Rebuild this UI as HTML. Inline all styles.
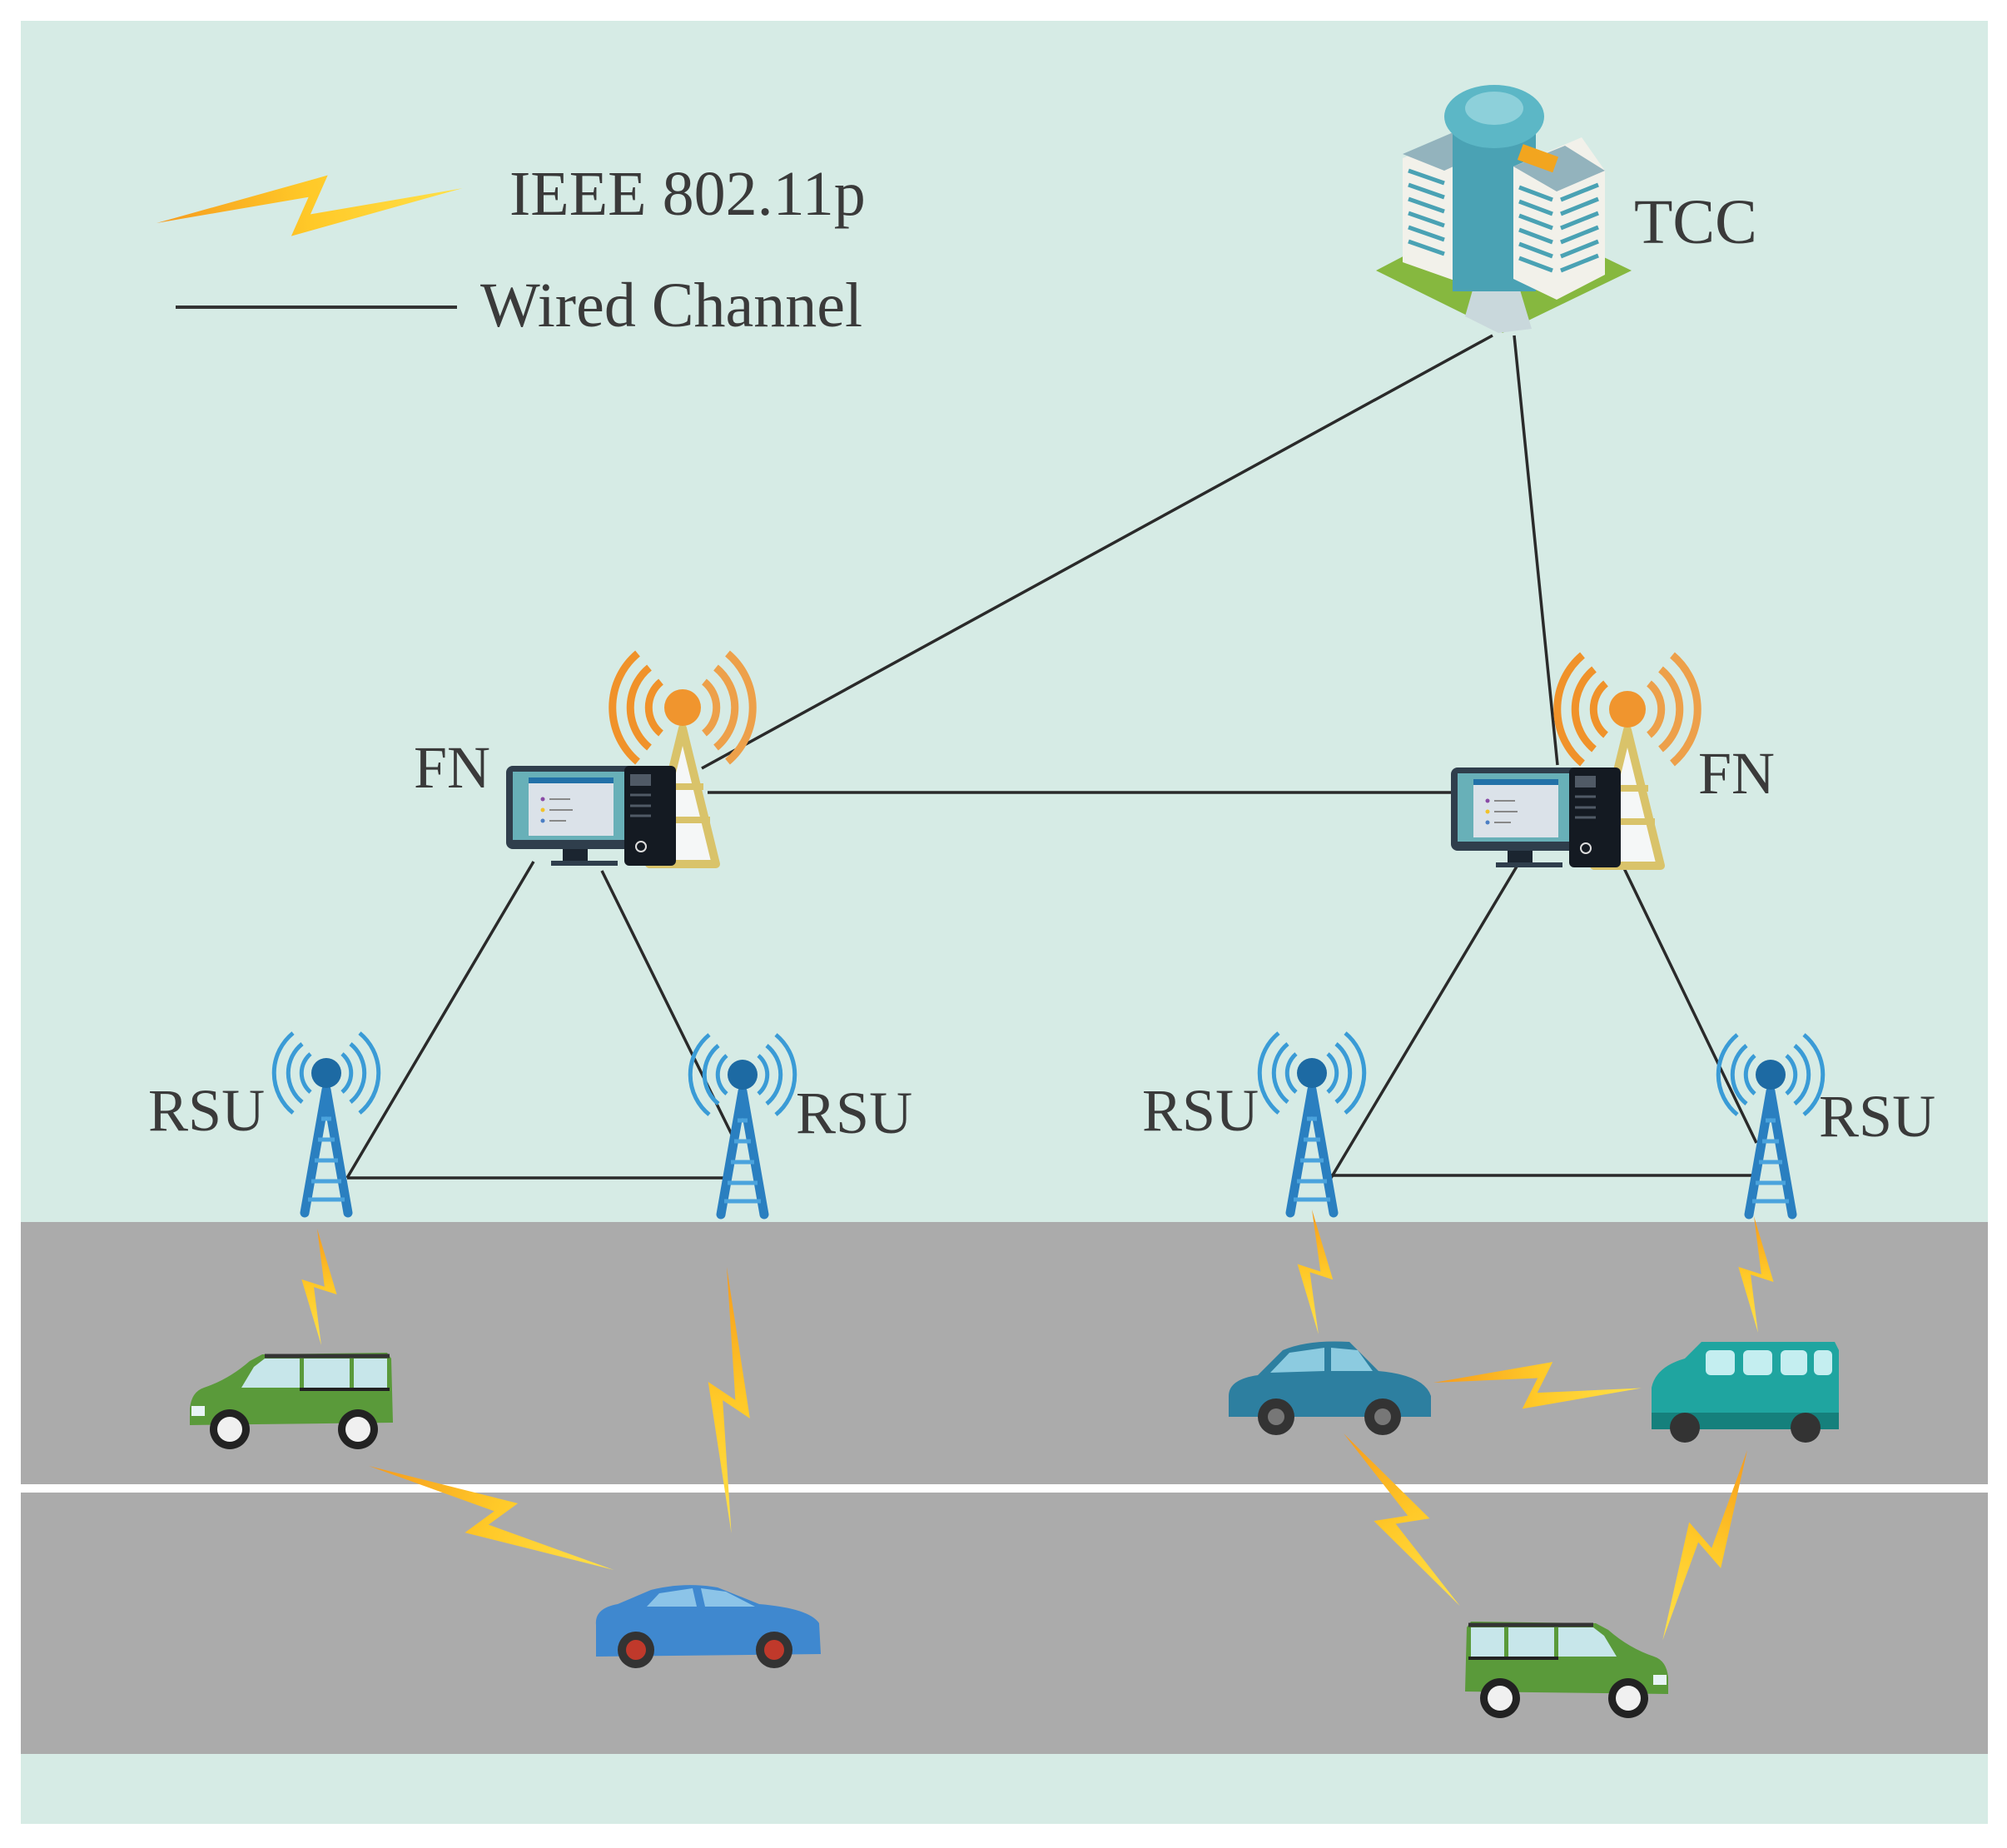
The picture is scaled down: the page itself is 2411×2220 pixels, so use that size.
<!DOCTYPE html>
<html><head><meta charset="utf-8"><style>
html,body{margin:0;padding:0;background:#fff}
svg{display:block}
text{font-family:"Liberation Serif",serif;fill:#3a3a3a}
</style></head><body>
<svg width="2411" height="2220" viewBox="0 0 2411 2220" xmlns="http://www.w3.org/2000/svg">
<defs>
<linearGradient id="bg" x1="0" y1="0" x2="1" y2="0">
<stop offset="0" stop-color="#f59a1e"/><stop offset="0.5" stop-color="#ffc928"/><stop offset="1" stop-color="#ffe14a"/>
</linearGradient>
<g id="bolt"><polygon points="0,0 57,-13 50,4 100,0 43,13 50,-4" fill="url(#bg)"/></g>
<g id="rsu">
<path d="M-19,-23 A30,30 0 0 0 -19,23 M-29,-35 A45,45 0 0 0 -29,35 M-40,-48 A62,62 0 0 0 -40,48" fill="none" stroke="#3a9bd6" stroke-width="5"/>
<path d="M19,-23 A30,30 0 0 1 19,23 M29,-35 A45,45 0 0 1 29,35 M40,-48 A62,62 0 0 1 40,48" fill="none" stroke="#3a9bd6" stroke-width="5"/>
<path d="M-26,168 L0,20 L26,168" fill="none" stroke="#2a7fc0" stroke-width="11" stroke-linecap="round" stroke-linejoin="round"/>
<path d="M-6,55 H6 M-10,80 H10 M-14,105 H14 M-18,130 H18 M-22,152 H22" stroke="#4aa3dd" stroke-width="5"/>
<circle cx="0" cy="0" r="18" fill="#1d6aa3"/>
</g>
<g id="fn">
<path d="M-26,-31 A40,40 0 0 0 -26,31 M-40,-48 A62,62 0 0 0 -40,48 M-54,-65 A85,85 0 0 0 -54,65" fill="none" stroke="#f0922a" stroke-width="9"/>
<path d="M26,-31 A40,40 0 0 1 26,31 M40,-48 A62,62 0 0 1 40,48 M54,-65 A85,85 0 0 1 54,65" fill="none" stroke="#eda04a" stroke-width="9"/>
<polygon points="0,25 -40,188 40,188" fill="#f5f7f7" stroke="#d9c36a" stroke-width="10" stroke-linejoin="round"/>
<path d="M-25,95 H25 M-33,135 H33" stroke="#d9c36a" stroke-width="8"/>
<circle cx="0" cy="0" r="22" fill="#f0952e"/>
<rect x="-212" y="70" width="155" height="100" rx="8" fill="#2f3e4c"/>
<rect x="-204" y="77" width="139" height="82" fill="#68b0b8"/>
<rect x="-185" y="84" width="102" height="70" fill="#dbe2e9"/>
<rect x="-185" y="84" width="102" height="7" fill="#2271a8"/>
<circle cx="-168" cy="110" r="2.5" fill="#8a4aa6"/><circle cx="-168" cy="123" r="2.5" fill="#f1c22a"/><circle cx="-168" cy="136" r="2.5" fill="#4c7fc4"/>
<path d="M-160,110 H-135 M-160,123 H-132 M-160,136 H-140" stroke="#888" stroke-width="2"/>
<rect x="-144" y="170" width="30" height="14" fill="#1b2530"/>
<rect x="-158" y="184" width="80" height="6" fill="#2f3e4c"/>
<rect x="-70" y="70" width="62" height="120" rx="6" fill="#141a22"/>
<rect x="-63" y="80" width="25" height="14" fill="#505a66"/>
<path d="M-63,105 H-38 M-63,118 H-38 M-63,130 H-38" stroke="#505a66" stroke-width="3"/>
<circle cx="-50" cy="167" r="6" fill="none" stroke="#ddd" stroke-width="2"/>
</g>
<g id="van">
<path d="M8,75 Q10,55 25,50 Q55,40 80,18 L95,10 L245,8 L250,15 L252,92 L8,95 Z" fill="#5a9a3a"/>
<path d="M98,12 H248" stroke="#333" stroke-width="5"/>
<polygon points="85,25 98,15 140,15 140,50 70,50" fill="#c7e6ea"/>
<rect x="145" y="15" width="55" height="35" fill="#c7e6ea"/>
<rect x="205" y="15" width="40" height="35" fill="#c7e6ea"/>
<path d="M140,52 H248" stroke="#222" stroke-width="4"/>
<rect x="10" y="72" width="16" height="12" fill="#e8f4f6"/>
<circle cx="56" cy="100" r="24" fill="#222"/><circle cx="56" cy="100" r="15" fill="#f0f0f0"/>
<circle cx="210" cy="100" r="24" fill="#222"/><circle cx="210" cy="100" r="15" fill="#f0f0f0"/>
</g>
</defs>

<rect width="2411" height="2220" fill="#fff"/>
<rect x="25" y="25" width="2363" height="2166" fill="#d6ebe5"/>
<rect x="25" y="1468" width="2363" height="639" fill="#ababab"/>
<rect x="25" y="1783" width="2363" height="10" fill="#fff"/>

<use href="#bolt" transform="translate(188,268) rotate(-6.5) scale(3.7,2.6)"/>
<text x="612" y="258" font-size="76">IEEE 802.11p</text>
<line x1="211" y1="369" x2="549" y2="369" stroke="#333" stroke-width="4"/>
<text x="577" y="392" font-size="76">Wired Channel</text>

<g stroke="#2a2a2a" stroke-width="3.5" fill="none">
<line x1="1793" y1="403" x2="843" y2="923"/>
<line x1="1819" y1="403" x2="1871" y2="919"/>
<line x1="850" y1="952" x2="1745" y2="952"/>
<line x1="641" y1="1035" x2="417" y2="1415"/>
<line x1="723" y1="1046" x2="884" y2="1373"/>
<line x1="417" y1="1415" x2="872" y2="1415"/>
<line x1="1822" y1="1041" x2="1599" y2="1415"/>
<line x1="1950" y1="1041" x2="2110" y2="1373"/>
<line x1="1599" y1="1412" x2="2110" y2="1412"/>
</g>

<g>
<polygon points="1653,325 1800,248 1960,325 1805,400" fill="#86b83f"/>
<polygon points="1770,345 1825,345 1840,395 1800,400 1760,380" fill="#c9d8dc"/>
<polygon points="1685,190 1760,160 1770,300 1770,345 1685,315" fill="#f2f1ea"/>
<polygon points="1685,185 1755,155 1800,175 1735,205" fill="#93b3bd"/>
<rect x="1745" y="140" width="100" height="210" fill="#4aa2b4"/>
<ellipse cx="1795" cy="140" rx="60" ry="38" fill="#5cb7c6"/>
<ellipse cx="1795" cy="130" rx="35" ry="20" fill="#8dd0da"/>
<polygon points="1818,200 1900,165 1928,205 1928,330 1870,360 1818,335" fill="#f2f1ea"/>
<polygon points="1818,200 1880,175 1928,205 1870,230" fill="#93b3bd"/>
<g stroke="#4aa2b4" stroke-width="5">
<path d="M1692,205 L1735,220 M1692,222 L1735,237 M1692,239 L1735,254 M1692,256 L1735,271 M1692,273 L1735,288 M1692,290 L1735,305"/>
<path d="M1825,225 L1865,240 M1825,242 L1865,257 M1825,259 L1865,274 M1825,276 L1865,291 M1825,293 L1865,308 M1825,310 L1865,325"/>
<path d="M1875,240 L1920,222 M1875,257 L1920,239 M1875,274 L1920,256 M1875,291 L1920,273 M1875,308 L1920,290 M1875,325 L1920,307"/>
</g>
<rect x="1825" y="180" width="45" height="20" fill="#f2a51f" transform="rotate(20 1847 190)"/>
</g>
<text x="1963" y="292" font-size="76">TCC</text>

<use href="#fn" transform="translate(820,850)"/>
<use href="#fn" transform="translate(1955,852)"/>
<text x="497" y="946" font-size="72">FN</text>
<text x="2040" y="953" font-size="72">FN</text>

<use href="#rsu" transform="translate(392,1289)"/>
<use href="#rsu" transform="translate(892,1291)"/>
<use href="#rsu" transform="translate(1576,1289)"/>
<use href="#rsu" transform="translate(2127,1291)"/>
<text x="178" y="1358" font-size="72">RSU</text>
<text x="956" y="1361" font-size="72">RSU</text>
<text x="1372" y="1358" font-size="72">RSU</text>
<text x="2185" y="1365" font-size="72">RSU</text>

<use href="#bolt" transform="translate(381,1476) rotate(88) scale(1.4,1.6)"/>
<use href="#bolt" transform="translate(873,1522) rotate(89) scale(3.2,1.9)"/>
<use href="#bolt" transform="translate(443,1761) rotate(23) scale(3.2,2.2)"/>
<use href="#bolt" transform="translate(1576,1453) rotate(87) scale(1.5,1.6)"/>
<use href="#bolt" transform="translate(2107,1461) rotate(88) scale(1.4,1.6)"/>
<use href="#bolt" transform="translate(1722,1661) rotate(1.5) scale(2.5,2.2)"/>
<use href="#bolt" transform="translate(1614,1722) rotate(56) scale(2.5,2.2)"/>
<use href="#bolt" transform="translate(2099,1742) rotate(114) scale(2.5,2.2)"/>

<use href="#van" transform="translate(220,1617)"/>
<use href="#van" transform="translate(2012,1940) scale(-1,1)"/>
<g transform="translate(712,1902)">
<path d="M4,50 Q2,30 30,25 L70,8 Q110,-2 150,5 L200,25 Q260,30 272,48 L274,85 L4,88 Z" fill="#3f88cf"/>
<polygon points="80,12 120,6 125,28 65,28" fill="#8cc4e8"/>
<polygon points="130,6 160,10 195,28 135,28" fill="#8cc4e8"/>
<circle cx="52" cy="80" r="22" fill="#333"/><circle cx="52" cy="80" r="12" fill="#c0392b"/>
<circle cx="218" cy="80" r="22" fill="#333"/><circle cx="218" cy="80" r="12" fill="#c0392b"/>
</g>
<g transform="translate(1471,1607)">
<path d="M5,70 Q5,50 40,45 L70,15 Q100,2 150,5 L185,40 Q240,45 248,70 L248,95 L5,95 Z" fill="#2d7fa0"/>
<polygon points="78,18 120,12 120,40 55,42" fill="#8ccbe0"/>
<polygon points="128,12 160,15 178,40 128,40" fill="#8ccbe0"/>
<circle cx="62" cy="95" r="22" fill="#333"/><circle cx="62" cy="95" r="10" fill="#777"/>
<circle cx="190" cy="95" r="22" fill="#333"/><circle cx="190" cy="95" r="10" fill="#777"/>
</g>
<g transform="translate(1979,1607)">
<path d="M5,60 Q10,35 45,25 L65,5 L225,5 L230,15 L230,110 L5,110 Z" fill="#1fa5a0"/>
<rect x="70" y="15" width="35" height="30" rx="6" fill="#c4eef0"/>
<rect x="115" y="15" width="35" height="30" rx="6" fill="#c4eef0"/>
<rect x="160" y="15" width="32" height="30" rx="6" fill="#c4eef0"/>
<rect x="200" y="15" width="22" height="30" rx="6" fill="#c4eef0"/>
<rect x="5" y="90" width="225" height="20" fill="#15807c"/>
<circle cx="45" cy="108" r="18" fill="#333"/><circle cx="190" cy="108" r="18" fill="#333"/>
</g>
</svg>
</body></html>
